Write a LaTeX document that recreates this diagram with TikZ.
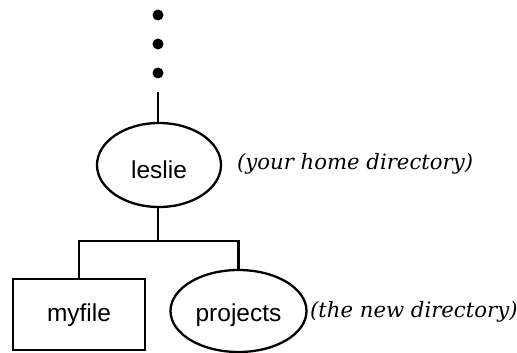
\documentclass[tikz,border=0pt]{standalone}
\usepackage{fontspec}
\usetikzlibrary{shapes.geometric}
\newfontfamily\labelfont{Liberation Sans}
\newfontfamily\notefont{DejaVu Serif}
\begin{document}
\begin{tikzpicture}[x=1pt,y=-1pt,
  line width=2.3pt,
  namefont/.style={font=\labelfont\fontsize{24.5}{28}\selectfont},
  dirnode/.style={draw, ellipse, inner sep=0pt, text depth=0pt, namefont},
  filenode/.style={draw, rectangle, inner sep=0pt, text depth=0pt, namefont},
  note/.style={anchor=base west, inner sep=0pt, font=\notefont\itshape\fontsize{21.2}{25}\selectfont},
  dot/.style={circle, fill, inner sep=0pt, minimum size=11pt}]
\useasboundingbox (0,0) rectangle (517,353);
% the path above the home directory
\node[dot] (d1) at (158,15) {};
\node[dot] (d2) at (158,44) {};
\node[dot] (d3) at (158,73) {};
\coordinate (top) at (158,92);
% directory tree
\node[dirnode, text height=26pt, minimum width=124pt, minimum height=84pt] (leslie) at (159,165) {leslie};
\node[filenode, text height=14pt, minimum width=132pt, minimum height=71pt] (myfile) at (79,314.5) {myfile};
\node[dirnode, text height=21pt, minimum width=136pt, minimum height=82pt] (projects) at (238.5,311) {projects};
\coordinate (bar) at (158,241);
\draw (top) -- (leslie.north -| top);
\draw (leslie.south -| bar) -- (bar);
\draw (myfile.north) |- (bar) -| (projects.north);
% annotations
\node[note] (homenote) at (236,169) {(your home directory)};
\node[note] (newnote) at (309,317) {(the new directory)};
\end{tikzpicture}
\end{document}
